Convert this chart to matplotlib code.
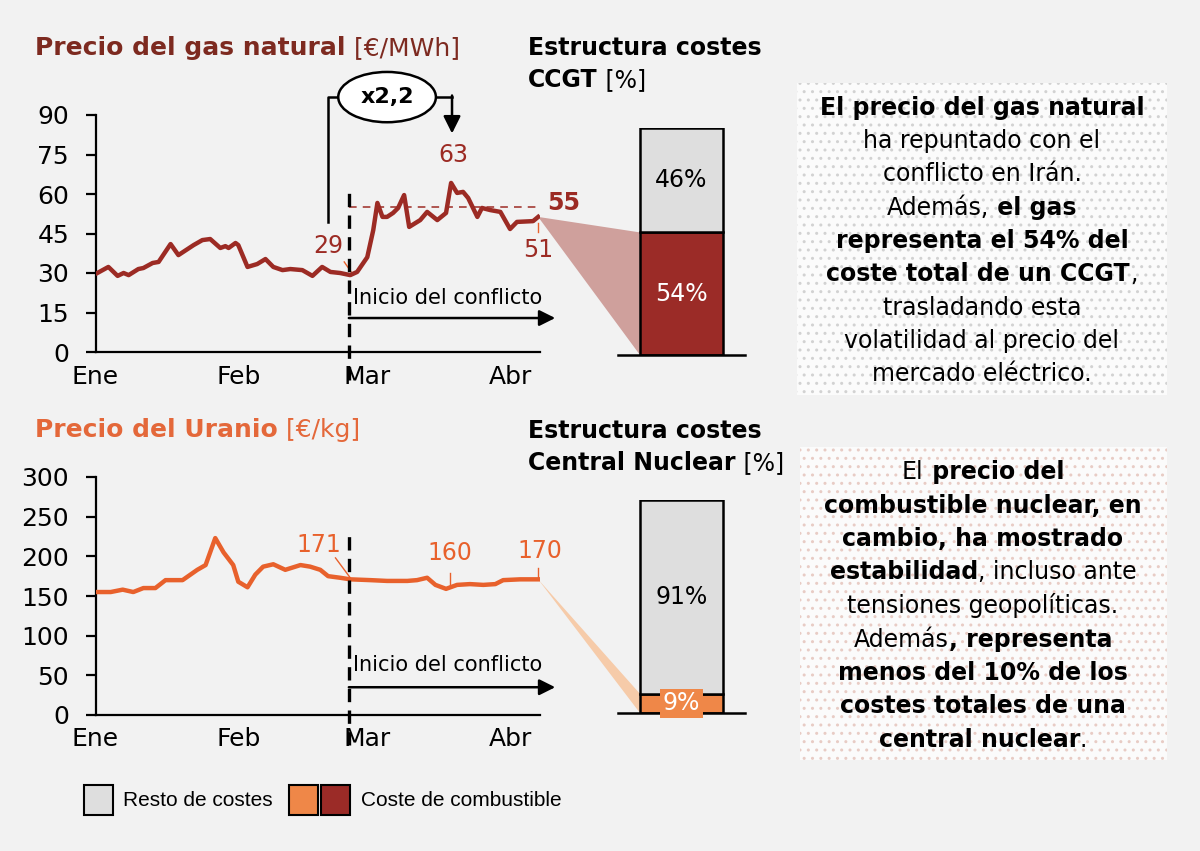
import matplotlib
matplotlib.use("Agg")
import matplotlib.pyplot as plt
from matplotlib.patches import Rectangle, Polygon
from matplotlib.offsetbox import TextArea, HPacker, VPacker, AnnotationBbox

# ----------------------------
# Data
# ----------------------------
month_ticks = [0, 31, 59, 90]
month_labels = ["Ene", "Feb", "Mar", "Abr"]
conflict_day = 55

gas_day = [0.4, 2.8, 4.8, 6.1, 7.2, 9.3, 10.4, 12.4, 13.7, 16.3,
           18.0, 21.3, 23.2, 24.9, 27.1, 28.2, 28.9, 30.4, 31.0, 33.0,
           35.1, 36.9, 38.6, 40.6, 42.3, 44.9, 47.1, 49.2, 51.0, 53.1,
           55.3, 56.8, 59.0, 60.3, 61.2, 62.3, 63.3, 64.6, 65.7, 67.0,
           68.1, 70.5, 72.0, 74.2, 76.1, 77.2, 78.5, 79.8, 80.9, 82.9,
           83.9, 85.7, 87.9, 90.0, 91.5, 95.0, 96.1]
gas_price = [30.0, 32.3, 28.9, 30.0, 29.2, 31.5, 31.9, 33.8, 34.2, 41.0,
             36.8, 40.6, 42.5, 42.9, 39.5, 40.2, 39.5, 41.4, 40.6, 32.3,
             33.4, 35.3, 32.3, 31.1, 31.5, 31.1, 28.9, 32.3, 30.4, 30.0,
             29.2, 30.4, 36.0, 46.3, 56.6, 51.3, 51.3, 52.8, 54.7, 59.6,
             47.5, 50.1, 53.2, 50.1, 52.8, 64.2, 60.4, 60.8, 58.5, 51.3,
             54.7, 53.9, 53.2, 46.7, 49.4, 49.7, 51.3]
gas_avg_after = 55

uran_day = [0.4, 3.3, 5.9, 8.2, 10.4, 13.0, 15.2, 18.9, 22.1, 23.9,
            26.0, 27.8, 29.9, 31.0, 33.0, 34.7, 36.4, 38.6, 41.2, 44.5,
            46.6, 48.8, 50.5, 53.1, 55.3, 59.7, 63.3, 67.7, 69.8, 72.0,
            73.8, 76.1, 78.5, 81.3, 84.2, 86.8, 88.5, 92.2, 96.1]
uran_price = [155, 155, 158, 155, 160, 160, 170, 170, 183, 189,
              223, 205, 189, 168, 161, 177, 187, 190, 183, 189,
              187, 183, 175, 173, 171, 170, 169, 169, 170, 173,
              164, 159, 164, 165, 164, 165, 170, 171, 171]

ccgt_fuel = 54
ccgt_rest = 46
nuc_fuel = 9
nuc_rest = 91

# ----------------------------
# Style
# ----------------------------
BG = "#f2f2f2"
GAS = "#9c2b24"
GAS_TITLE = "#7d2a20"
GAS_BAR = "#9b2b27"
GAS_WEDGE = "#cfa09c"
URA = "#e8612c"
URA_TITLE = "#e4683a"
URA_BAR = "#ef8748"
URA_WEDGE = "#f6cba9"
GREY = "#dedede"

W, H = 1200, 851


def fx(px):
    return px / W


def fy(py):
    return 1 - py / H


def rich_text(fig, x, y, lines, size, color="black", align="center",
              anchor=(0.5, 0.5), sep=7):
    rows = []
    for segs in lines:
        kids = [TextArea(t, textprops=dict(fontsize=size, color=color,
                                           fontweight="bold" if b else "normal"))
                for t, b in segs]
        rows.append(HPacker(children=kids, align="baseline", pad=0, sep=0))
    box = VPacker(children=rows, align=align, pad=0, sep=sep)
    ab = AnnotationBbox(box, (x, y), xycoords="figure fraction",
                        box_alignment=anchor, frameon=False, pad=0)
    fig.add_artist(ab)


fig = plt.figure(figsize=(12, 8.51), dpi=100, facecolor=BG)


def line_axes(top_px, bottom_px):
    ax = fig.add_axes([fx(95.5), fy(bottom_px), fx(540) - fx(95.5),
                       (bottom_px - top_px) / H])
    ax.set_facecolor("none")
    ax.set_zorder(2)
    for s in ["top", "right"]:
        ax.spines[s].set_visible(False)
    for s in ["left", "bottom"]:
        ax.spines[s].set_linewidth(1.6)
    ax.set_xlim(0, 96.5)
    ax.set_xticks(month_ticks, month_labels)
    ax.tick_params(axis="x", length=0, pad=9, labelsize=18)
    ax.tick_params(axis="y", length=7, width=1.6, pad=12, labelsize=18)
    return ax


def bar_axes(top_px, bottom_px):
    bx = fig.add_axes([fx(618), fy(bottom_px), fx(745) - fx(618),
                       (bottom_px - top_px) / H])
    bx.set_facecolor("none")
    bx.set_zorder(2)
    bx.set_xlim(-0.5, 0.5)
    bx.set_ylim(0, 100)
    for s in ["top", "right", "left"]:
        bx.spines[s].set_visible(False)
    bx.spines["bottom"].set_linewidth(1.8)
    bx.set_xticks([])
    bx.set_yticks([])
    return bx


BW = 0.654

# ----------------------------
# Gas price
# ----------------------------
ax1 = line_axes(115, 352)
ax1.set_ylim(0, 90)
ax1.set_yticks(range(0, 91, 15))
ax1.plot(gas_day, gas_price, color=GAS, lw=3.2, solid_joinstyle="round", zorder=3)
ax1.plot([conflict_day, 96.5], [gas_avg_after] * 2, color=GAS, lw=1.1,
         ls=(0, (5, 4)), zorder=2)
ax1.plot([conflict_day] * 2, [-10.6, 61.5], color="black", lw=2.4,
         ls=(0, (4, 2.5)), clip_on=False, zorder=4)
ax1.annotate("", xy=(99.8, 12.9), xytext=(conflict_day, 12.9),
             arrowprops=dict(arrowstyle="-|>", lw=1.8, color="black",
                             mutation_scale=24, shrinkA=0, shrinkB=0),
             annotation_clip=False)
ax1.text(conflict_day + 0.8, 20.5, "Inicio del conflicto", fontsize=15,
         va="center", ha="left")

# value labels
ax1.text(50.5, 40.3, "29", fontsize=17, color=GAS, ha="center", va="center")
ax1.plot([54.0, 55.5], [34.2, 30.4], color=URA, lw=1.0)
ax1.text(77.6, 74.8, "63", fontsize=17, color=GAS, ha="center", va="center")
ax1.text(96.1, 38.8, "51", fontsize=17, color=GAS, ha="center", va="center",
         clip_on=False)
ax1.plot([96.1, 96.1], [45.6, 49.0], color=URA, lw=1.0, clip_on=False)
ax1.text(101.6, 56.5, "55", fontsize=17, color=GAS, fontweight="bold",
         ha="center", va="center", clip_on=False)

# x2,2 bracket
ax1.plot([50.5, 50.5, 77.4], [49.4, 96.8, 96.8], color="black", lw=1.8,
         clip_on=False, zorder=5)
ax1.annotate("", xy=(77.4, 83.0), xytext=(77.4, 97.4),
             arrowprops=dict(arrowstyle="-|>", lw=1.8, color="black",
                             mutation_scale=26, shrinkA=0, shrinkB=0),
             annotation_clip=False, zorder=5)
ax1.text(63.3, 96.8, "x2,2", fontsize=16, fontweight="bold", ha="center",
         va="center", zorder=6,
         bbox=dict(boxstyle="ellipse,pad=0.35", fc="white", ec="black", lw=1.8))

# ----------------------------
# Uranium price
# ----------------------------
ax2 = line_axes(477, 715)
ax2.set_ylim(0, 300)
ax2.set_yticks(range(0, 301, 50))
ax2.plot(uran_day, uran_price, color=URA, lw=3.2, solid_joinstyle="round", zorder=3)
ax2.plot([conflict_day] * 2, [-38, 233], color="black", lw=2.4,
         ls=(0, (4, 2.5)), clip_on=False, zorder=4)
ax2.annotate("", xy=(99.8, 35), xytext=(conflict_day, 35),
             arrowprops=dict(arrowstyle="-|>", lw=1.8, color="black",
                             mutation_scale=24, shrinkA=0, shrinkB=0),
             annotation_clip=False)
ax2.text(conflict_day + 0.8, 63, "Inicio del conflicto", fontsize=15,
         va="center", ha="left")

ax2.text(48.4, 214, "171", fontsize=17, color=URA, ha="center", va="center")
ax2.plot([52.1, 55.3], [198, 173], color=URA, lw=1.0)
ax2.text(77.0, 204, "160", fontsize=17, color=URA, ha="center", va="center")
ax2.plot([77.0, 77.0], [164, 179], color=URA, lw=1.0)
ax2.text(96.5, 207, "170", fontsize=17, color=URA, ha="center", va="center",
         clip_on=False)
ax2.plot([96.1, 96.1], [173, 185], color=URA, lw=1.0, clip_on=False)

# ----------------------------
# Cost structure bars
# ----------------------------
bx1 = bar_axes(128, 355)
bx1.bar(0, ccgt_fuel, width=BW, color=GAS_BAR, edgecolor="black", lw=1.8)
bx1.bar(0, ccgt_rest, bottom=ccgt_fuel, width=BW, color=GREY,
        edgecolor="black", lw=1.8)
bx1.text(0, ccgt_fuel / 2, f"{ccgt_fuel}%", fontsize=17, color="white",
         ha="center", va="center")
bx1.text(0, ccgt_fuel + ccgt_rest / 2, f"{ccgt_rest}%", fontsize=17,
         ha="center", va="center")

bx2 = bar_axes(500, 713)
bx2.bar(0, nuc_fuel, width=BW, color=URA_BAR, edgecolor="black", lw=1.8)
bx2.bar(0, nuc_rest, bottom=nuc_fuel, width=BW, color=GREY,
        edgecolor="black", lw=1.8)
bx2.text(0, nuc_fuel / 2, f"{nuc_fuel}%", fontsize=17, color="white",
         ha="center", va="center",
         bbox=dict(boxstyle="square,pad=0.12", fc=URA_BAR, ec="none"))
bx2.text(0, nuc_fuel + nuc_rest / 2, f"{nuc_rest}%", fontsize=17,
         ha="center", va="center")


# wedges linking the last price to the fuel share of the bar
def wedge(ax, x, y, bx, share, color):
    to_fig = fig.transFigure.inverted()
    pts = [ax.transData.transform((x, y)),
           bx.transData.transform((-BW / 2, share)),
           bx.transData.transform((-BW / 2, 0))]
    pts = to_fig.transform(pts)
    fig.add_artist(Polygon(pts, closed=True, transform=fig.transFigure,
                           fc=color, ec="none", zorder=1))


wedge(ax1, gas_day[-1], gas_price[-1], bx1, ccgt_fuel, GAS_WEDGE)
wedge(ax2, uran_day[-1], uran_price[-1], bx2, nuc_fuel, URA_WEDGE)

# ----------------------------
# Titles
# ----------------------------
rich_text(fig, fx(35), fy(48), [[("Precio del gas natural", True), (" [€/MWh]", False)]],
          18, color=GAS_TITLE, anchor=(0, 0.5))
rich_text(fig, fx(35), fy(430), [[("Precio del Uranio", True), (" [€/kg]", False)]],
          18, color=URA_TITLE, anchor=(0, 0.5))
rich_text(fig, fx(528), fy(64), [[("Estructura costes", True)],
                                 [("CCGT", True), (" [%]", False)]],
          17, align="left", anchor=(0, 0.5), sep=6)
rich_text(fig, fx(528), fy(447), [[("Estructura costes", True)],
                                  [("Central Nuclear", True), (" [%]", False)]],
          17, align="left", anchor=(0, 0.5), sep=6)

# ----------------------------
# Comment boxes
# ----------------------------
for (x0, y0, x1, y1, dots) in [(797, 83, 1167, 395, "#d2d2d2"),
                               (800, 447, 1167, 760, "#e8ccc5")]:
    fig.add_artist(Rectangle((fx(x0), fy(y1)), fx(x1) - fx(x0), (y1 - y0) / H,
                             transform=fig.transFigure, fc="#fbfbfb",
                             ec="none", zorder=0.5))
    fig.add_artist(Rectangle((fx(x0), fy(y1)), fx(x1) - fx(x0), (y1 - y0) / H,
                             transform=fig.transFigure, fill=False, hatch="..",
                             ec=dots, lw=0, zorder=0.6))

gas_note = [
    [("El precio del gas natural", True)],
    [("ha repuntado con el", False)],
    [("conflicto en Irán.", False)],
    [("Además,", False), (" el gas", True)],
    [("representa el 54% del", True)],
    [("coste total de un CCGT", True), (",", False)],
    [("trasladando esta", False)],
    [("volatilidad al precio del", False)],
    [("mercado eléctrico.", False)],
]
nuc_note = [
    [("El", False), (" precio del", True)],
    [("combustible nuclear, en", True)],
    [("cambio, ha mostrado", True)],
    [("estabilidad", True), (", incluso ante", False)],
    [("tensiones geopolíticas.", False)],
    [("Además", False), (", representa", True)],
    [("menos del 10% de los", True)],
    [("costes totales de una", True)],
    [("central nuclear", True), (".", False)],
]
rich_text(fig, fx(982), fy(241), gas_note, 17, sep=6.7)
rich_text(fig, fx(983), fy(606), nuc_note, 17, sep=6.7)

# ----------------------------
# Legend
# ----------------------------
for (x0, c) in [(84, GREY), (289, URA_BAR), (321, GAS_BAR)]:
    fig.add_artist(Rectangle((fx(x0), fy(815)), 29 / W, 30 / H,
                             transform=fig.transFigure, fc=c, ec="black", lw=1.5))
fig.text(fx(123), fy(800), "Resto de costes", fontsize=15, va="center",
         family=["Liberation Sans", "DejaVu Sans"])
fig.text(fx(361), fy(800), "Coste de combustible", fontsize=15, va="center",
         family=["Liberation Sans", "DejaVu Sans"])

fig.savefig("out.png", dpi=100, facecolor=fig.get_facecolor())
